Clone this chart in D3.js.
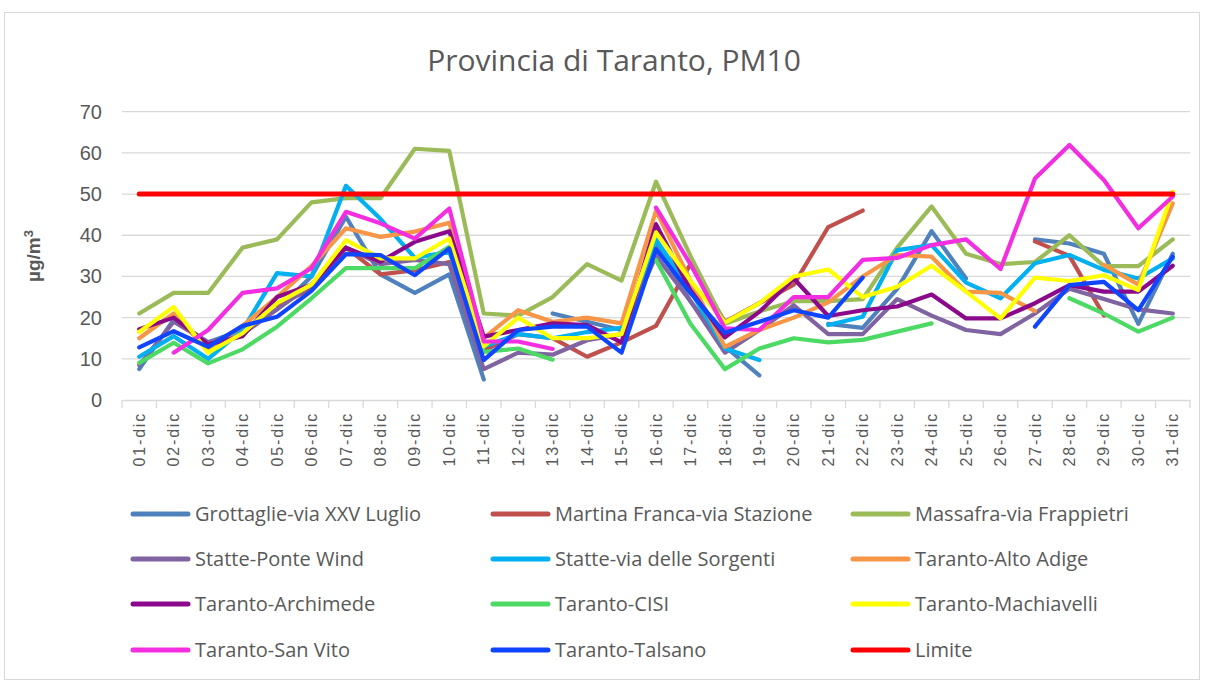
<!DOCTYPE html>
<html>
<head>
<meta charset="utf-8">
<script src="https://cdn.jsdelivr.net/npm/d3@7"></script>
<style>
  body { margin: 0; background: #fff; }
  text { fill: #595959; }
</style>
</head>
<body>
<div id="chart"></div>
<script>
// days of December
const days = d3.range(1, 32).map(d => (d < 10 ? "0" + d : "" + d) + "-dic");

const yTicks = [0, 10, 20, 30, 40, 50, 60, 70];

// PM10 daily values (µg/m³), null = no data
const grottaglie = [7.5, 19.5, 14, 17, 22, 30, 44.5, 30.5, 26, 30.5, 5, null, 21, 19, 17, 38, 24, 13, 6, null, 18.5, 17.5, 27, 41, 29.5, null, 39, 38, 35.5, 18.5, 35.5];
const martina = [null, null, null, null, 23, 27, 37, 30.5, 31.5, 33.5, 12, 16, 15, 10.5, 14, 18, 33, 19, 23.5, 28, 42, 46, null, null, null, null, 38.5, 35, 20.5, null, null];
const massafra = [21, 26, 26, 37, 39, 48, 49, 49, 61, 60.5, 21, 20.5, 25, 33, 29, 53, 35, 18.5, 21.5, 24, 24, 24.5, 37, 47, 35.5, 33, 33.5, 40, 32.5, 32.5, 39];
const statteWind = [8.5, 19, 14, 16, 22, 28, 37, 33, 34, 33, 7.5, 11.5, 11, 14.5, 16, 35, 24, 11.5, 17, 23, 16, 16, 24.5, 20.5, 17, 16, 21, 27, 24.5, 22, 21];
const statteSorgenti = [10.5, 15.5, 10, 17, 30.8, 30, 52, 44, 34.5, 36, 13, 16, 15, 16.5, 17.5, 39, 26.5, 12.5, 9.7, null, 18.2, 20.2, 36.4, 37.6, 28.5, 24.7, 33.2, 35.2, 31.6, 29.5, 34.4];
const altoAdige = [15, 21, 12, 18, 25, 32.5, 41.7, 39.6, 40.9, 43, 15, 21.8, 19, 20, 18.6, 46, 29, 12.9, 17, 20, 23.7, 30, 35.2, 34.8, 26.3, 26, 21.6, null, 32.8, 28, 47.7];
const archimede = [17.2, 20, 13.5, 15.5, 25, 28, 37, 33.6, 38.4, 41, 15.4, 17, 18.6, 18.2, 14, 42.7, 26.7, 15.2, 21.4, 29.5, 20.4, 21.8, 22.7, 25.6, 19.8, 19.8, 23.5, 27.9, 26.3, 26.3, 32.6];
const cisi = [9, 13.9, 8.9, 12.3, 17.8, 24.7, 32, 32, 32, 37.2, 11.7, 12.5, 9.8, null, null, 34, 18.5, 7.5, 12.5, 15, 14, 14.6, 16.6, 18.6, null, null, null, 24.7, 21, 16.6, 20];
const machiavelli = [16.5, 22.6, 11.5, 16.2, 23.5, 28, 38.8, 34.4, 34.4, 39.2, 13, 20, 15, 15, 16, 40.7, 29, 18.8, 23.5, 30, 31.7, 25, 27.5, 32.6, 26.3, 19.8, 29.7, 28.9, 30.3, 26.7, 50.6];
const sanVito = [null, 11.5, 17, 26, 27.1, 32, 45.7, 42.9, 39.2, 46.5, 14.2, 14.2, 12.4, null, null, 46.7, 33, 17.4, 17, 25, 25, 34, 34.5, 37.6, 39, 31.8, 53.8, 61.9, 53.4, 41.7, 49.4];
const talsano = [12.8, 16.7, 12.9, 18, 20.2, 26.5, 35.4, 35.2, 30.3, 36.8, 9.7, 17, 17.8, 17.8, 11.5, 36.6, 26, 16.3, 19, 21.8, 20, 29.7, null, null, null, null, 17.8, 27.9, 28.7, 21.8, 34.8];
const limite = days.map(() => 50);

const seriesNames = ["Grottaglie-via XXV Luglio", "Martina Franca-via Stazione", "Massafra-via Frappietri",
  "Statte-Ponte Wind", "Statte-via delle Sorgenti", "Taranto-Alto Adige",
  "Taranto-Archimede", "Taranto-CISI", "Taranto-Machiavelli",
  "Taranto-San Vito", "Taranto-Talsano", "Limite"];
const seriesValues = [grottaglie, martina, massafra, statteWind, statteSorgenti, altoAdige,
  archimede, cisi, machiavelli, sanVito, talsano, limite];
const colors = ["#4f81bd", "#c0504d", "#9bbb59", "#8064a2", "#00b0f0", "#f79646",
  "#8b0a8b", "#4cd964", "#ffff00", "#f22ee0", "#1045ff", "#ff0000"];

const W = 1205, H = 684;
const plot = {left: 122, right: 1190, top: 111.7, bottom: 400};

const svg = d3.select("#chart").append("svg")
  .attr("width", W)
  .attr("height", H);

svg.append("rect")
  .attr("width", W).attr("height", H).attr("fill", "#fff");

// chart frame
svg.append("rect")
  .attr("x", 4.5).attr("y", 12.5)
  .attr("width", 1195).attr("height", 667)
  .attr("fill", "none").attr("stroke", "#d9d9d9");

const x = d3.scaleBand().domain(days).range([plot.left, plot.right]);
const y = d3.scaleLinear().domain([0, 70]).range([plot.bottom, plot.top]);
const cx = d => x(d) + x.bandwidth() / 2;

// gridlines
svg.append("g")
  .selectAll("line")
  .data(yTicks.slice(1))
  .join("line")
  .attr("x1", plot.left).attr("x2", plot.right)
  .attr("y1", d => y(d)).attr("y2", d => y(d))
  .attr("stroke", "#d9d9d9").attr("stroke-width", 1.3);

// y axis labels
const yAxis = d3.axisLeft(y).tickValues(yTicks).tickSize(0).tickPadding(20);
svg.append("g")
  .attr("transform", "translate(" + plot.left + ",0)")
  .call(yAxis)
  .call(g => g.select(".domain").remove())
  .selectAll("text")
  .attr("font-family", "'Liberation Sans Narrow', 'Liberation Sans', sans-serif")
  .attr("font-size", 20)
  .attr("fill", "#595959");

// x axis with ticks between categories
const xAxis = d3.axisBottom(x).tickSize(0).tickPadding(12);
const xg = svg.append("g")
  .attr("transform", "translate(0," + plot.bottom + ")")
  .call(xAxis);
xg.select(".domain").attr("stroke", "#d9d9d9").attr("stroke-width", 1.3);
xg.selectAll("text")
  .attr("font-family", "'Liberation Sans', Arial, sans-serif")
  .attr("font-size", 16)
  .attr("letter-spacing", 1.8)
  .attr("fill", "#595959")
  .attr("text-anchor", "end")
  .attr("dy", "0.35em")
  .attr("transform", "translate(0,0) rotate(-90)")
  .attr("x", -12).attr("y", 0);

svg.append("g")
  .selectAll("line")
  .data(days.concat(["end"]))
  .join("line")
  .attr("x1", (d, i) => plot.left + i * x.step())
  .attr("x2", (d, i) => plot.left + i * x.step())
  .attr("y1", plot.bottom).attr("y2", plot.bottom + 8)
  .attr("stroke", "#d9d9d9").attr("stroke-width", 1.3);

// y axis title
svg.append("text")
  .attr("transform", "translate(40,256) rotate(-90)")
  .attr("text-anchor", "middle")
  .attr("font-family", "'Liberation Sans', Arial, sans-serif")
  .attr("font-size", 19)
  .attr("font-weight", "bold")
  .attr("fill", "#595959")
  .html("µg/m<tspan dy='-7' font-size='13'>3</tspan>");

// title
svg.append("text")
  .attr("x", 614).attr("y", 71)
  .attr("text-anchor", "middle")
  .attr("font-family", "'Liberation Sans Narrow', 'Open Sans', sans-serif")
  .attr("font-size", 30)
  .attr("fill", "#595959")
  .text("Provincia di Taranto, PM10");

// series lines
const line = d3.line()
  .defined(d => d.v != null)
  .x(d => cx(d.day))
  .y(d => y(d.v));

svg.append("g")
  .selectAll("path")
  .data(seriesValues)
  .join("path")
  .attr("d", vals => line(vals.map((v, i) => ({day: days[i], v: v}))))
  .attr("fill", "none")
  .attr("stroke", (d, i) => colors[i])
  .attr("stroke-width", (d, i) => i === 11 ? 5 : 4.2)
  .attr("stroke-linejoin", "round")
  .attr("stroke-linecap", "round");

// legend
const legCols = [133, 493, 853];
const legRows = [514, 559, 604, 650];
const leg = svg.append("g")
  .selectAll("g")
  .data(seriesNames)
  .join("g")
  .attr("transform", (d, i) => "translate(" + legCols[i % 3] + "," + legRows[Math.floor(i / 3)] + ")");

leg.append("line")
  .attr("x1", 0).attr("x2", 55)
  .attr("stroke", (d, i) => colors[i])
  .attr("stroke-width", 5)
  .attr("stroke-linecap", "round");

leg.append("text")
  .attr("x", 62).attr("dy", "0.35em")
  .attr("font-family", "'Liberation Sans Narrow', 'Open Sans', sans-serif")
  .attr("font-size", 20)
  .attr("fill", "#595959")
  .text(d => d);
</script>
</body>
</html>
